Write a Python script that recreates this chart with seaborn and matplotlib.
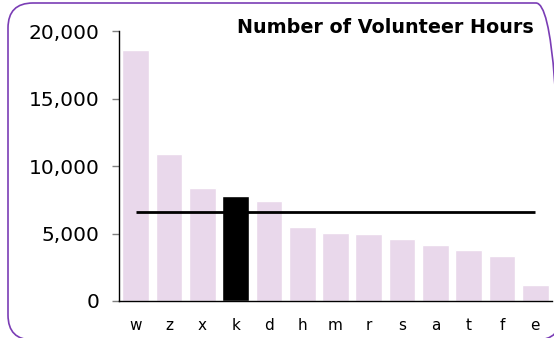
import matplotlib
matplotlib.use("Agg")
import matplotlib.pyplot as plt
from matplotlib.patches import FancyBboxPatch
from matplotlib.transforms import IdentityTransform
import seaborn as sns
import pandas as pd

# Volunteer hours per group, with "k" highlighted against the average line
groups = ["w", "z", "x", "k", "d", "h", "m", "r", "s", "a", "t", "f", "e"]
hours = [18600, 10900, 8400, 7800, 7450, 5500, 5050, 5000, 4600, 4150, 3800, 3350, 1200]
highlight = "k"
average_hours = 6600
y_ticks = [0, 5000, 10000, 15000, 20000]

sns.set_theme(style="white")
plt.rcParams["font.family"] = ["DejaVu Sans"]

df = pd.DataFrame({"group": groups, "hours": hours})
base_color = "#E9D8EB"
palette = {g: ("#000000" if g == highlight else base_color) for g in groups}

fig = plt.figure(figsize=(5.54, 3.38), dpi=100)
ax = fig.add_axes([0.2148, 0.1095, 0.7816, 0.7979])

sns.barplot(data=df, x="group", y="hours", hue="group", palette=palette,
            order=groups, width=0.8, legend=False, saturation=1, ax=ax)

# average line spanning the first to the last bar centre
ax.plot([0, len(groups) - 1], [average_hours, average_hours], color="black",
        lw=2, solid_capstyle="butt", zorder=3)

ax.set_xlim(-0.5, len(groups) - 0.5)
ax.set_ylim(0, 20000)
ax.set_yticks(y_ticks)
ax.set_yticklabels([f"{v:,}" for v in y_ticks], fontsize=14.5, color="black")
ax.set_xlabel("")
ax.set_ylabel("")
ax.tick_params(axis="y", length=5, width=1, color="#808080", pad=9, left=True)
ax.tick_params(axis="x", length=0, pad=12, labelsize=11, labelcolor="black")

for side in ("top", "right"):
    ax.spines[side].set_visible(False)
for side in ("left", "bottom"):
    ax.spines[side].set_color("black")
    ax.spines[side].set_linewidth(1)

fig.text(0.963, 0.918, "Number of Volunteer Hours", ha="right", va="center",
         fontsize=13.8, fontweight="bold", color="black")

# rounded frame around the chart (pixel units, runs past the right and bottom edges)
frame = FancyBboxPatch((8, -2), 553, 337, transform=IdentityTransform(),
                       boxstyle="round,pad=0,rounding_size=25",
                       fill=False, edgecolor="#7A3DB5", lw=1.2, zorder=10)
fig.patches.append(frame)

fig.savefig("out.png", dpi=100)
print(fig.get_size_inches() * fig.dpi)
